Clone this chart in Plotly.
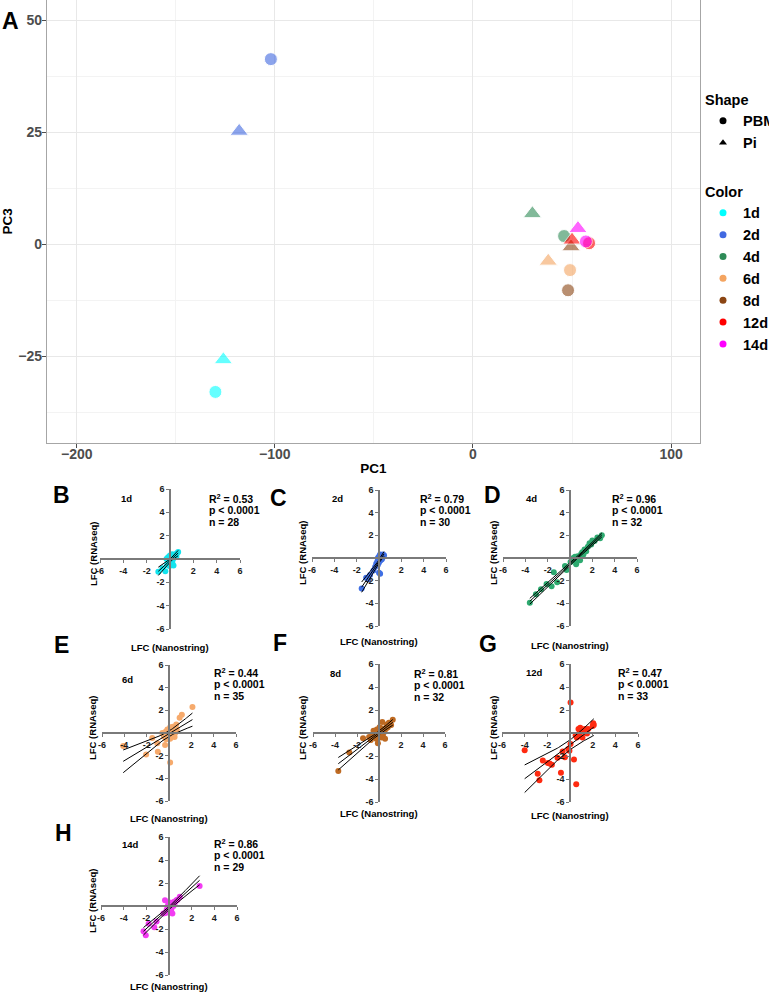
import numpy as np
import plotly.graph_objects as go

W, H = 769, 992
FONT = "Liberation Sans, Arial, sans-serif"

# ---- PCA (panel A) ----
pca_day = ['1d', '1d', '2d', '2d', '4d', '4d', '6d', '6d', '8d', '8d', '12d', '12d', '14d', '14d']
pca_shape = ['PBM', 'Pi', 'PBM', 'Pi', 'PBM', 'Pi', 'PBM', 'Pi', 'PBM', 'Pi', 'PBM', 'Pi', 'PBM', 'Pi']
pc1 = [-130, -126, -102, -118, 46, 30, 49, 38, 48, 49.5, 58.6, 50, 57, 53]
pc3 = [-33, -25.8, 41.3, 25.2, 1.8, 6.8, -5.8, -3.8, -10.3, -0.6, 0.2, 0.9, 0.6, 3.5]

days = ['1d', '2d', '4d', '6d', '8d', '12d', '14d']
pca_colors = ['#00FFFF', '#4169E1', '#2E8B57', '#F4A460', '#8B4513', '#FF0000', '#FF00FF']

# ---- Nanostring vs RNAseq (panels B-H) ----
r2_vals = ['0.53', '0.79', '0.96', '0.44', '0.81', '0.47', '0.86']
n_vals = [28, 30, 32, 35, 32, 33, 29]
lfc_colors = ['#12E4EE', '#3F6FE4', '#2EAA70', '#F6AA6C', '#BE6A22', '#FF2A10', '#F23CF2']

x_1d = [-1.0, -0.65, -0.4, -0.3, -0.25, -0.2, -0.15, -0.1, -0.05, 0.0, 0.0, 0.05, 0.1, 0.1,
        0.15, 0.2, 0.2, 0.25, 0.3, 0.3, 0.35, 0.4, 0.45, 0.5, 0.55, 0.6, 0.7, -0.05]
y_1d = [-1.1, -0.8, -1.05, 0.0, -0.5, 0.1, -0.3, 0.2, -0.1, 0.3, -0.3, 0.05, 0.35, -0.45,
        0.15, -0.25, 0.4, 0.0, 0.2, -0.55, 0.1, 0.35, 0.3, 0.4, 0.2, 0.5, 0.6, -0.6]

x_2d = [-1.55, -1.15, -0.95, -0.8, -0.5, -0.35, -0.25, -0.15, -0.1, -0.05, 0.0, 0.0, 0.05, 0.05, 0.1,
        0.1, 0.15, 0.15, 0.2, 0.2, 0.25, 0.25, 0.3, 0.3, 0.35, 0.4, 0.45, -0.1, 0.0, 0.1]
y_2d = [-2.7, -1.75, -1.9, -1.5, -1.1, -0.8, -0.5, -0.3, 0.0, -0.2, 0.1, -1.3, 0.2, -0.1, 0.3,
        -1.4, 0.0, -0.2, 0.2, 0.05, 0.1, -0.1, 0.25, 0.0, 0.3, 0.2, 0.25, -0.6, -0.4, 0.15]

x_4d = [-3.6, -3.05, -2.6, -2.1, -1.65, -1.45, -1.15, -0.45, -0.3, 0.05, 0.2, 0.3, 0.45, 0.55, 0.6, 0.7,
        0.8, 0.9, 1.0, 1.1, 1.2, 1.3, 1.45, 1.6, 1.75, 1.9, 2.0, 2.2, 2.45, 2.7, 2.85, 0.4]
y_4d = [-3.95, -3.2, -2.75, -2.3, -2.5, -1.25, -2.15, -0.7, -1.05, -0.35, -0.2, 0.0, 0.1, -0.55, -0.3, 0.15,
        0.05, -0.2, 0.35, 0.5, 0.3, 0.75, 0.6, 1.0, 1.3, 1.2, 1.55, 1.5, 1.8, 1.75, 2.0, -0.1]

x_6d = [-4.1, -2.05, -1.5, -1.05, -1.0, -0.6, -0.45, -0.35, -0.3, -0.2, -0.15, -0.1, -0.05, 0.0, 0.0, 0.05,
        0.1, 0.1, 0.15, 0.2, 0.25, 0.3, 0.35, 0.4, 0.45, 0.5, 0.55, 0.65, 0.7, 0.95, 1.15, 2.1, 0.1, -0.25, 0.3]
y_6d = [-1.15, -1.9, -0.45, -0.9, -1.65, 0.0, -0.3, -1.05, 0.1, -0.15, 0.3, -0.5, 0.0, 0.2, -0.35, 0.1,
        -2.6, 0.5, -0.1, 0.35, 0.0, -0.3, 0.55, 0.1, 0.2, -0.35, 0.0, 0.75, 0.3, 1.35, 1.6, 2.3, -0.5, -0.55, 0.15]

x_8d = [-3.7, -2.7, -1.45, -0.9, -0.75, -0.6, -0.5, -0.4, -0.35, -0.25, -0.2, -0.1, -0.05, 0.0, 0.05, 0.1,
        0.15, 0.2, 0.25, 0.3, 0.35, 0.4, 0.5, 0.55, 0.65, 0.7, 0.8, 0.9, 1.1, 1.25, -0.15, 0.3]
y_8d = [-3.3, -1.7, -0.45, -0.35, -0.6, -0.2, 0.2, -0.35, 0.0, -0.5, 0.3, -0.9, 0.1, -0.2, 0.5, 0.0,
        0.3, -0.4, 0.2, 0.95, -0.2, 0.3, 0.1, -0.5, 0.4, 0.75, 0.5, 0.9, 0.7, 1.15, -0.1, 0.4]

x_12d = [-4.0, -2.85, -2.7, -2.4, -1.95, -1.8, -1.6, -1.1, -0.8, -0.65, -0.45, -0.15, -0.05, 0.05, 0.05, 0.35,
         0.55, 0.5, 0.6, 0.75, 0.9, 1.0, 1.1, 1.2, 1.3, 1.4, 1.5, 1.6, 2.0, 2.05, 2.1, 0.7, 0.85]
y_12d = [-1.5, -3.55, -4.1, -2.4, -2.6, -2.65, -2.75, -2.15, -3.45, -1.6, -2.1, -1.4, -1.55, -0.95, 2.65, -2.3,
         -4.45, -0.2, -0.4, 0.35, 0.45, 0.1, -0.4, 0.25, 0.35, 0.15, -0.05, 0.35, 0.6, 0.85, 0.7, -0.3, 0.0]

x_14d = [-2.25, -2.05, -1.8, -1.3, -1.1, -0.5, -0.35, -0.3, -0.2, -0.1, -0.05, 0.0, 0.05, 0.1, 0.15,
         0.2, 0.25, 0.3, 0.35, 0.4, 0.45, 0.5, 0.55, 0.65, 0.75, 0.95, 2.7, 0.3, -0.15]
y_14d = [-2.2, -2.55, -1.55, -1.85, -1.35, -0.65, 0.5, -0.6, -0.3, 0.0, 0.2, -0.2, 0.3, -0.1, 0.1,
         -0.3, 0.15, -0.65, 0.3, 0.0, 0.35, 0.25, 0.4, 0.5, 0.55, 0.8, 1.75, 0.05, -0.5]

lfc_x = [x_1d, x_2d, x_4d, x_6d, x_8d, x_12d, x_14d]
lfc_y = [y_1d, y_2d, y_4d, y_6d, y_8d, y_12d, y_14d]

# layout of the small panels (pixel centre, half sizes, letter, label spots)
panels = [
    dict(letter='B', cx=170, cy=559, hx=70, hy=70, letter_xy=(61, 495), day_xy=(126, 498), stat_xy=(207, 498), xt_y=647),
    dict(letter='C', cx=379, cy=558, hx=67, hy=68, letter_xy=(278, 498), day_xy=(337, 498), stat_xy=(418, 498), xt_y=641),
    dict(letter='D', cx=570, cy=558, hx=67, hy=68, letter_xy=(492, 495), day_xy=(531, 498), stat_xy=(610, 498), xt_y=645),
    dict(letter='E', cx=169, cy=733, hx=67, hy=68, letter_xy=(61, 645), day_xy=(127, 679), stat_xy=(212, 672), xt_y=818),
    dict(letter='F', cx=379, cy=733, hx=66, hy=69, letter_xy=(280, 643), day_xy=(335, 673), stat_xy=(412, 673), xt_y=813),
    dict(letter='G', cx=570, cy=733, hx=68, hy=69, letter_xy=(488, 644), day_xy=(534, 672), stat_xy=(616, 672), xt_y=815),
    dict(letter='H', cx=169, cy=906, hx=68, hy=69, letter_xy=(63, 833), day_xy=(130, 844), stat_xy=(212, 843), xt_y=986),
]


def px(p):
    return p / W


def py(p):
    return 1 - p / H


def fit_lines(x, y, t=2.04):
    x = np.asarray(x, float)
    y = np.asarray(y, float)
    n = len(x)
    b, a = np.polyfit(x, y, 1)
    xs = np.linspace(x.min(), x.max(), 60)
    yhat = a + b * xs
    s = np.sqrt(np.sum((y - (a + b * x)) ** 2) / (n - 2))
    sxx = np.sum((x - x.mean()) ** 2)
    se = s * np.sqrt(1 / n + (xs - x.mean()) ** 2 / sxx)
    return xs, yhat, yhat - t * se, yhat + t * se


def label(text, x, y, size, **kw):
    return dict(text=text, x=px(x), y=py(y), xref='paper', yref='paper', showarrow=False,
                xanchor=kw.pop('xanchor', 'center'), yanchor='middle',
                font=dict(family=FONT, size=size, color='black', weight='bold'), **kw)


fig = go.Figure()

# panel A points
for d, col in zip(days, pca_colors):
    idx = [i for i, v in enumerate(pca_day) if v == d]
    fig.add_trace(go.Scatter(
        x=[pc1[i] for i in idx], y=[pc3[i] for i in idx], mode='markers',
        marker=dict(color=col, opacity=0.6,
                    size=[13 if pca_shape[i] == 'PBM' else 16 for i in idx],
                    symbol=['circle' if pca_shape[i] == 'PBM' else 'triangle-up' for i in idx]),
        showlegend=False, xaxis='x', yaxis='y'))

# legend entries
for name, sym in [('PBM', 'circle'), ('Pi', 'triangle-up')]:
    fig.add_trace(go.Scatter(x=[None], y=[None], mode='markers', name=name,
                             marker=dict(color='black', size=7, symbol=sym),
                             legend='legend', xaxis='x', yaxis='y'))
for d, col in zip(days, pca_colors):
    fig.add_trace(go.Scatter(x=[None], y=[None], mode='markers', name=d,
                             marker=dict(color=col, size=7),
                             legend='legend2', xaxis='x', yaxis='y'))

annotations = [label('A', 10, 21, 23)]

layout_axes = {}
for k, (p, xs_, ys_, col, r2, n) in enumerate(zip(panels, lfc_x, lfc_y, lfc_colors, r2_vals, n_vals)):
    ax = k + 2
    fig.add_trace(go.Scatter(x=xs_, y=ys_, mode='markers', marker=dict(color=col, size=6),
                             showlegend=False, xaxis=f'x{ax}', yaxis=f'y{ax}'))
    lx, ly, llo, lhi = fit_lines(xs_, ys_)
    for yy in (ly, llo, lhi):
        fig.add_trace(go.Scatter(x=lx, y=yy, mode='lines', line=dict(color='black', width=1),
                                 showlegend=False, hoverinfo='skip', xaxis=f'x{ax}', yaxis=f'y{ax}'))
    tickstyle = dict(range=[-6, 6], tickvals=[-6, -4, -2, 2, 4, 6],
                     ticktext=['-6', '-4', '-2', '2', '4', '6'],
                     showline=True, linecolor='#7a7a7a', linewidth=1.5, ticks='outside', ticklen=3,
                     tickwidth=1.2, tickcolor='#7a7a7a', showgrid=False, zeroline=False,
                     tickfont=dict(family=FONT, size=9, color='#1a1a1a', weight='bold'),
                     anchor='free', automargin=False, fixedrange=True)
    layout_axes[f'xaxis{ax}'] = dict(domain=[px(p['cx'] - p['hx']), px(p['cx'] + p['hx'])],
                                     position=py(p['cy']), **tickstyle)
    layout_axes[f'yaxis{ax}'] = dict(domain=[py(p['cy'] + p['hy']), py(p['cy'] - p['hy'])],
                                     position=px(p['cx']), **tickstyle)

    annotations.append(label(p['letter'], *p['letter_xy'], 23))
    annotations.append(label(days[k], *p['day_xy'], 9.5))
    sx, sy = p['stat_xy']
    for j, line in enumerate([f'R<sup>2</sup> = {r2}', 'p < 0.0001', f'n = {n}']):
        annotations.append(label(line, sx, sy + 12 * j, 10.5, xanchor='left'))
    annotations.append(label('LFC (RNAseq)', p['cx'] - 77, p['cy'] - 5, 9.5, textangle=-90))
    annotations.append(label('LFC (Nanostring)', p['cx'], p['xt_y'], 9.5))

tickfontA = dict(family=FONT, size=14, color='#4d4d4d', weight='bold')
titlefontA = dict(family=FONT, size=13.5, color='black', weight='bold')
legfont = dict(family=FONT, size=14.5, color='black', weight='bold')

fig.update_layout(
    width=W, height=H, margin=dict(l=0, r=0, t=0, b=0, autoexpand=False),
    template='none', paper_bgcolor='white', plot_bgcolor='white',
    xaxis=dict(domain=[px(47), px(700)], range=[-215, 114.6], anchor='y', dtick=100, tick0=0,
               showline=True, mirror=True, linecolor='#a6a6a6', linewidth=1.3,
               showgrid=True, gridcolor='#e8e8e8', gridwidth=1,
               minor=dict(dtick=50, tick0=0, showgrid=True, gridcolor='#f3f3f3', gridwidth=0.8),
               ticks='outside', ticklen=4, tickcolor='#4d4d4d', zeroline=False,
               tickfont=tickfontA, automargin=False, ticklabelstandoff=-6,
               title=dict(text='PC1', font=titlefontA, standoff=2)),
    yaxis=dict(domain=[py(443), 1], range=[-44.4, 54.5], anchor='x', dtick=25, tick0=0,
               showline=True, mirror=True, linecolor='#a6a6a6', linewidth=1.3,
               showgrid=True, gridcolor='#e8e8e8', gridwidth=1,
               minor=dict(dtick=12.5, tick0=0, showgrid=True, gridcolor='#f3f3f3', gridwidth=0.8),
               ticks='outside', ticklen=4, tickcolor='#4d4d4d', zeroline=False,
               tickfont=tickfontA, automargin=False, ticklabelstandoff=-3,
               title=dict(text='PC3', font=titlefontA, standoff=2)),
    legend=dict(title=dict(text='Shape', font=legfont), font=legfont, x=px(703), y=py(86),
                xanchor='left', yanchor='top', bgcolor='rgba(0,0,0,0)', borderwidth=0, tracegroupgap=0),
    legend2=dict(title=dict(text='Color', font=legfont), font=legfont, x=px(703), y=py(178),
                 xanchor='left', yanchor='top', bgcolor='rgba(0,0,0,0)', borderwidth=0, tracegroupgap=0),
    annotations=annotations,
    **layout_axes,
)

# the page body has a default 8px margin; drop it so the figure sits at the window corner
fig.write_html("out.html", config={'displayModeBar': False},
               post_script="document.body.style.margin='0';")
